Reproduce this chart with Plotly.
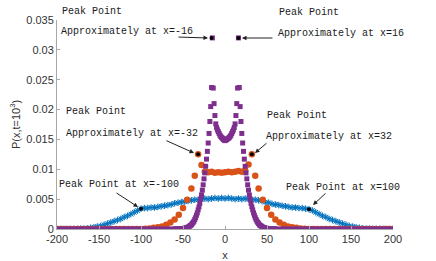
import plotly.graph_objects as go

# ---------------- data ----------------
# Blue series (x step 4, -200..200)
blue_x = list(range(-200, 201, 4))
blue_neg = [0.0, 0.0, 0.00001, 0.00001, 0.00001, 0.00002, 0.00003, 0.00005, 0.00007, 0.0001,
            0.0002, 0.0003, 0.0004, 0.0005, 0.0007, 0.0009, 0.0011, 0.0013, 0.0015, 0.0017,
            0.0020, 0.0022, 0.0025, 0.0028, 0.0031, 0.0034, 0.0035, 0.0035, 0.0036, 0.0036,
            0.0037, 0.0038, 0.0039, 0.0040, 0.0041, 0.0043, 0.0044, 0.0045, 0.0046, 0.0047,
            0.0048, 0.0049, 0.0049, 0.0050, 0.0051, 0.0050, 0.0051, 0.0052, 0.0051, 0.0052]
blue_pos = [0.0051, 0.0052, 0.0051, 0.0050, 0.0051, 0.0050, 0.0051, 0.0050, 0.0049, 0.0049,
            0.0048, 0.0047, 0.0045, 0.0044, 0.0042, 0.0041, 0.0040, 0.0039, 0.0038, 0.0037,
            0.0036, 0.0036, 0.0035, 0.0035, 0.0034, 0.0033, 0.0031, 0.0028, 0.0025, 0.0022,
            0.0020, 0.0017, 0.0015, 0.0013, 0.0011, 0.0009, 0.0007, 0.0005, 0.0004, 0.0003,
            0.0002, 0.0001, 0.00007, 0.00005, 0.00003, 0.00002, 0.00001, 0.00001, 0.00001, 0.0, 0.0]
blue_y = blue_neg + blue_pos

# Orange series
orange_x = [-200, -195, -190, -185, -180, -175, -170, -165, -160, -155, -150, -145, -140, -135,
            -130, -125, -120, -115, -110, -105, -100, -95, -90, -85, -80, -75, -70, -65, -60,
            -55, -50, -45, -40, -36, -32, -28, -24, -20, -16, -12, -8, -4,
            0, 4, 8, 12, 16, 20, 24, 28, 32, 36, 40, 45, 50, 55, 60, 65, 70, 75, 80, 85, 90,
            95, 100, 105, 110, 115, 120, 125, 130, 135, 140, 145, 150, 155, 160, 165, 170, 175,
            180, 185, 190, 195, 200]
orange_y = [0.0, 0.0, 0.0, 0.0, 0.0, 0.0, 0.0, 0.0, 0.0, 0.0, 0.0, 0.0, 0.0, 0.0,
            0.0, 0.0, 0.0, 0.0, 0.0, 0.00001, 0.00002, 0.00005, 0.0001, 0.0002, 0.0003, 0.0004,
            0.0007, 0.0011, 0.0016, 0.0024, 0.0035, 0.0049, 0.0068, 0.0089, 0.0125, 0.0107,
            0.0096, 0.0095, 0.0096, 0.0094, 0.0095, 0.0094,
            0.0095, 0.0096, 0.0095, 0.0096, 0.0097, 0.0096, 0.0098, 0.0108, 0.0125, 0.0089,
            0.0068, 0.0049, 0.0035, 0.0024, 0.0016, 0.0011, 0.0007, 0.0004, 0.0003, 0.0002,
            0.0001, 0.00005, 0.00002, 0.00001, 0.0, 0.0, 0.0, 0.0, 0.0, 0.0, 0.0, 0.0, 0.0,
            0.0, 0.0, 0.0, 0.0, 0.0, 0.0, 0.0, 0.0, 0.0, 0.0]

# Purple series: tails every 4, centre every 1
purple_x = (list(range(-200, -60, 4)) + list(range(-60, 61)) + list(range(64, 201, 4)))
purple_tail_left = [0.0, 0.0, 0.0, 0.0, 0.0, 0.0, 0.0, 0.0, 0.0, 0.0, 0.0, 0.0,
                    0.0, 0.0, 0.0, 0.0, 0.0, 0.0, 0.0, 0.0, 0.0, 0.0, 0.0, 0.0,
                    0.0, 0.0, 0.0, 0.0, 0.0, 0.0, 0.0, 0.0, 0.0, 0.0, 0.0]
purple_centre = [
    # x = -60 .. -1
    0.0, 0.0, 0.0, 0.0, 0.0, 0.00001, 0.00001, 0.00002, 0.00002, 0.00003,
    0.00005, 0.0001, 0.0001, 0.00015, 0.0002, 0.00025, 0.0003, 0.0004, 0.0005, 0.0006,
    0.0007, 0.0009, 0.0011, 0.0013, 0.0016, 0.0019, 0.0023, 0.0027, 0.0032, 0.0037,
    0.0043, 0.0050, 0.0057, 0.0065, 0.0074, 0.0084, 0.0094, 0.0105, 0.0117, 0.0130,
    0.0144, 0.0160, 0.0180, 0.0205, 0.0237, 0.0320, 0.0236, 0.0210, 0.0190, 0.0176,
    0.0170, 0.0166, 0.0163, 0.0160, 0.0157, 0.0155, 0.0153, 0.0152, 0.0150, 0.0149,
    # x = 0
    0.0148,
    # x = 1 .. 60
    0.0149, 0.0150, 0.0151, 0.0152, 0.0153, 0.0155, 0.0157, 0.0160, 0.0163, 0.0166,
    0.0170, 0.0176, 0.0190, 0.0210, 0.0236, 0.0320, 0.0237, 0.0205, 0.0180, 0.0160,
    0.0144, 0.0130, 0.0117, 0.0105, 0.0094, 0.0084, 0.0074, 0.0065, 0.0057, 0.0050,
    0.0043, 0.0037, 0.0032, 0.0027, 0.0023, 0.0019, 0.0016, 0.0013, 0.0011, 0.0009,
    0.0007, 0.0006, 0.0005, 0.0004, 0.0003, 0.00025, 0.0002, 0.00015, 0.0001, 0.0001,
    0.00005, 0.00003, 0.00002, 0.00002, 0.00001, 0.00001, 0.0, 0.0, 0.0, 0.0]
purple_tail_right = [0.0, 0.0, 0.0, 0.0, 0.0, 0.0, 0.0, 0.0, 0.0, 0.0, 0.0, 0.0,
                     0.0, 0.0, 0.0, 0.0, 0.0, 0.0, 0.0, 0.0, 0.0, 0.0, 0.0, 0.0,
                     0.0, 0.0, 0.0, 0.0, 0.0, 0.0, 0.0, 0.0, 0.0, 0.0, 0.0]
purple_y = purple_tail_left + purple_centre + purple_tail_right

# Peak markers
peak_x = [-16, 16, -32, 32, -100, 100]
peak_y = [0.0320, 0.0320, 0.0125, 0.0125, 0.0034, 0.0033]

x_ticks = [-200, -150, -100, -50, 0, 50, 100, 150, 200]
y_ticks = [0, 0.005, 0.01, 0.015, 0.02, 0.025, 0.03, 0.035]
y_tick_text = ["0", "0.005", "0.01", "0.015", "0.02", "0.025", "0.03", "0.035"]

# ---------------- figure ----------------
BLUE = "#0072BD"
ORANGE = "#D95319"
PURPLE = "#7E2F8E"

fig = go.Figure()
fig.add_trace(go.Scatter(x=blue_x, y=blue_y, mode="markers",
                         marker=dict(symbol="circle", size=5, color="#b3d5f0", line=dict(width=0)),
                         hoverinfo="skip"))
fig.add_trace(go.Scatter(x=blue_x, y=blue_y, mode="markers",
                         marker=dict(symbol="asterisk-open", size=5.5, color=BLUE,
                                     line=dict(width=1, color=BLUE))))
fig.add_trace(go.Scatter(x=orange_x, y=orange_y, mode="markers",
                         marker=dict(symbol="circle", size=6.5, color=ORANGE, line=dict(width=0))))
fig.add_trace(go.Scatter(x=purple_x, y=purple_y, mode="markers",
                         marker=dict(symbol="square", size=5, color=PURPLE, line=dict(width=0))))
fig.add_trace(go.Scatter(x=peak_x, y=peak_y, mode="markers",
                         marker=dict(symbol="circle", size=4, color="black", line=dict(width=0))))

# plot area in pixels: x 57..393, y 20..229
L, R, T, B = 57, 393, 20, 229


def px(x):
    return (x - L) / (R - L)


def py(y):
    return (B - y) / (B - T)


ann_font = dict(family="Liberation Mono", size=10, color="#1a1a1a")
texts = [
    ("Peak Point", 60, 11),
    ("Approximately at x=-16", 59, 32),
    ("Peak Point", 277, 12),
    ("Approximately at x=16", 276, 33),
    ("Peak Point", 64, 112),
    ("Approximately at x=-32", 64, 133),
    ("Peak Point", 265, 115),
    ("Approximately at x=32", 264, 136),
    ("Peak Point at x=-100", 57, 184),
    ("Peak Point at x=100", 284, 187),
]
annotations = []
for t, x, y in texts:
    annotations.append(dict(text=t, x=px(x), y=py(y), xref="paper", yref="paper",
                            xanchor="left", yanchor="middle", showarrow=False, font=ann_font))

arrows = [
    ((177, 37), (208, 38)),
    ((274, 38), (242, 38)),
    ((165, 140), (194, 153)),
    ((268, 142), (255, 153)),
    ((115, 192), (138, 207)),
    ((327, 192), (313, 205)),
]
for (tx, ty), (hx, hy) in arrows:
    annotations.append(dict(text="", x=px(hx), y=py(hy), xref="paper", yref="paper",
                            ax=tx - hx, ay=ty - hy, showarrow=True, arrowhead=2,
                            arrowsize=0.9, arrowwidth=1, arrowcolor="#222222"))

axis_common = dict(showgrid=False, zeroline=False, showline=True, linecolor="#a8a8a8",
                   linewidth=1, ticks="inside", ticklen=3, tickcolor="#a8a8a8",
                   tickfont=dict(family="Liberation Sans", size=11, color="#333333"),
                   mirror=False)

fig.update_layout(
    width=436, height=261,
    margin=dict(l=L, r=436 - R, t=T, b=261 - B),
    paper_bgcolor="white", plot_bgcolor="white",
    showlegend=False,
    annotations=annotations,
    xaxis=dict(range=[-200, 200], tickvals=x_ticks, ticktext=[str(v) for v in x_ticks],
               title=dict(text="x", font=dict(family="Liberation Sans", size=11, color="#333333"),
                          standoff=7),
               **axis_common),
    yaxis=dict(range=[0, 0.035], tickvals=y_ticks, ticktext=y_tick_text,
               title=dict(text="P(x,t=10<sup>3</sup>)",
                          font=dict(family="Liberation Sans", size=11, color="#333333"),
                          standoff=3),
               **axis_common),
)
fig.update_xaxes(automargin=False)
fig.update_yaxes(automargin=False)

fig.write_html("out.html", config={"displayModeBar": False},
               post_script="document.body.style.margin='0';document.body.style.padding='0';")
